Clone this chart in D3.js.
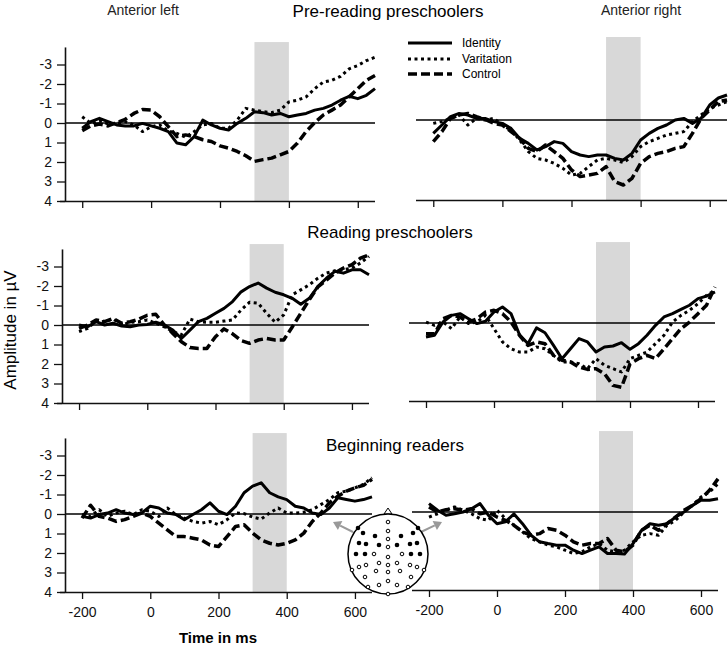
<!DOCTYPE html>
<html><head><meta charset="utf-8">
<script src="https://cdn.jsdelivr.net/npm/d3@7/dist/d3.min.js"></script>
<style>body{margin:0;background:#fff}svg{display:block;font-family:"Liberation Sans",Arial,sans-serif}</style>
</head><body><svg id="chart" width="728" height="645"></svg>
<script>
// ---------- DATA ----------
const timeMs = [-200,-175,-150,-125,-100,-75,-50,-25,0,25,50,75,100,125,150,175,200,225,250,275,300,325,350,375,400,425,450,475,500,525,550,575,600,625,650];
const seriesNames = ["Identity","Varitation","Control"];
const groupTitles = ["Pre-reading preschoolers","Reading preschoolers","Beginning readers"];
const regionTitles = ["Anterior left","Anterior right"];
const yTicks = [-3,-2,-1,0,1,2,3,4];
const xTicks = [-200,0,200,400,600];
const windowMs = [300,400];

// Pre-reading preschoolers
const preLeftIdentity  = [0.27,-0.07,-0.24,-0.07,0.1,0.15,0.15,0.02,0.15,0.27,0.44,1.03,1.12,0.7,-0.15,0.1,0.27,0.36,0.02,-0.24,-0.58,-0.53,-0.41,-0.49,-0.32,-0.41,-0.49,-0.66,-0.75,-0.92,-1.17,-1.37,-1.25,-1.42,-1.76];
const preLeftVariation = [-0.32,0.02,-0.12,0.05,0.02,-0.07,0.1,0.44,0.19,0.1,0.41,0.53,0.73,0.44,0.1,0.02,0.27,0.27,-0.15,-0.75,-0.66,-0.58,-0.53,-0.66,-1.08,-1.17,-1.34,-1.76,-2.1,-2.19,-2.39,-2.78,-2.95,-3.2,-3.37];
const preLeftControl   = [0.39,0.15,0.05,0.15,-0.02,-0.19,-0.49,-0.69,-0.66,-0.32,0.19,0.7,0.61,0.7,0.86,0.95,1.17,1.29,1.46,1.68,1.97,1.88,1.8,1.63,1.46,1.03,0.44,-0.02,-0.41,-0.66,-0.92,-1.34,-1.76,-2.19,-2.44];
const preRightIdentity  = [0.67,0.25,-0.17,-0.33,-0.25,-0.08,-0.08,0.08,0.17,0.42,0.92,1.17,1.5,1.33,1.08,1.17,1.58,1.75,1.83,1.75,1.75,1.92,2.0,1.67,1.0,0.67,0.42,0.25,0.0,-0.08,0.17,-0.08,-0.75,-1.1,-1.25];
const preRightVariation = [0.17,0.08,-0.08,-0.25,0.25,-0.08,0,-0.08,0.25,0.5,1.0,1.58,1.92,2.0,2.17,2.42,2.75,2.67,2.33,2.0,1.92,2.0,2.13,1.83,1.33,1.08,0.92,0.75,0.67,0.58,0.08,-0.25,-0.58,-0.75,-0.92];
const preRightControl   = [1.08,0.58,-0.08,-0.25,-0.33,-0.17,-0.03,0.17,0.25,0.58,0.92,1.42,1.58,1.25,1.58,1.92,2.5,2.83,2.75,2.67,2.33,3.08,3.25,2.92,2.17,1.83,1.67,1.58,1.42,1.33,0.67,-0.08,-0.5,-0.92,-1.0];

// Reading preschoolers
const readLeftIdentity  = [0,0.09,-0.17,0,-0.09,0.05,0.09,0,-0.03,-0.14,0,0.26,0.69,0.26,-0.17,-0.34,-0.6,-0.85,-1.2,-1.7,-1.97,-2.15,-1.89,-1.68,-1.55,-1.37,-1.06,-1.37,-1.97,-2.4,-2.75,-2.66,-2.83,-2.83,-2.58];
const readLeftVariation = [0.34,0.17,-0.2,-0.17,-0.31,0,-0.14,-0.17,-0.26,-0.09,0.09,0.34,0.5,-0.3,-0.17,-0.14,-0.14,-0.2,-0.26,-0.77,-1.17,-1.12,-0.6,-0.14,-0.52,-1.55,-1.8,-2.06,-2.4,-2.66,-2.78,-2.83,-2.92,-3.18,-3.52];
const readLeftControl   = [0.17,0,-0.26,-0.17,-0.34,-0.09,-0.17,-0.3,-0.5,-0.55,0,0.43,0.86,1.15,1.2,1.2,0.6,0.2,0.45,0.8,0.94,0.77,0.69,0.77,0.77,0.1,-0.6,-1.3,-1.95,-2.3,-2.66,-2.92,-3.09,-3.43,-3.6];
const readRightIdentity  = [0.72,0.63,-0.05,-0.39,-0.48,-0.22,0.03,-0.09,-0.56,-0.82,-0.48,0.6,1.06,0.25,0.5,1.15,1.83,1.32,0.8,0.97,1.49,1.23,1.18,1.01,1.35,1.06,0.63,0.12,-0.31,-0.48,-0.7,-0.91,-1.25,-1.38,-1.59];
const readRightVariation = [-0.05,0.12,-0.05,0.29,-0.31,0.03,-0.05,-0.39,0.29,0.97,1.32,1.49,1.49,1.23,1.32,1.66,2.0,2.0,2.09,2.34,1.83,2.17,2.34,2.51,1.83,1.66,1.49,1.06,0.63,-0.05,-0.39,-0.65,-0.99,-1.42,-1.68];
const readRightControl   = [0.55,0.55,-0.22,-0.39,-0.31,-0.05,-0.22,-0.56,-0.65,-0.48,-0.05,0.63,1.15,0.97,1.06,1.66,1.91,2.0,2.26,2.38,2.34,2.6,3.2,3.3,2.1,1.83,1.66,1.83,1.32,0.8,0.29,-0.05,-0.48,-0.91,-1.85];

// Beginning readers
const beginLeftIdentity  = [0.12,0.21,0.03,-0.05,-0.22,-0.05,0.03,-0.05,-0.4,-0.31,-0.05,0.03,0.29,0.03,-0.22,-0.57,-0.14,0.03,-0.4,-1.09,-1.43,-1.6,-1.09,-0.88,-0.74,-0.4,-0.31,-0.05,0.03,-0.31,-0.83,-0.74,-0.66,-0.74,-0.88];
const beginLeftVariation = [0.03,0.12,-0.22,0.12,-0.05,-0.14,0.03,-0.22,-0.14,0.12,-0.31,0.03,0.21,0.38,0.47,0.38,0.55,0.29,-0.05,-0.02,0.16,0.26,-0.05,-0.31,-0.05,-0.05,-0.09,-0.22,-0.48,-0.74,-1.09,-1.17,-1.34,-1.52,-1.86];
const beginLeftControl   = [0.21,-0.45,0.12,0.21,0.38,0.29,0.12,-0.05,0.12,0.47,0.81,1.16,1.16,1.24,1.33,1.59,1.67,1.16,0.64,0.55,0.98,1.33,1.5,1.59,1.5,1.33,0.98,0.38,-0.05,-0.57,-0.91,-1.17,-1.34,-1.47,-1.78];
const beginRightIdentity  = [-0.43,-0.09,0.17,0.09,0,-0.17,-0.43,0.17,0.6,0.5,0.1,0.6,1.19,1.53,1.62,1.7,1.7,1.96,2.13,1.96,1.79,2.13,2.13,2.16,1.62,0.94,0.6,0.68,0.6,0.26,0,-0.34,-0.6,-0.6,-0.68];
const beginRightVariation = [0.26,0.09,-0.09,-0.26,-0.09,0.09,0.34,0.43,-0.09,0.34,0.68,1.02,1.36,1.53,1.7,1.79,1.96,2.13,2.04,1.79,1.62,1.96,2.04,1.96,1.53,1.19,1.11,1.19,0.68,0.43,0,-0.34,-0.77,-1.02,-1.45];
const beginRightControl   = [-0.26,0,-0.12,-0.17,-0.09,-0.17,0.09,0,0.26,0.43,0.68,1.02,1.19,1.11,0.85,0.94,1.19,1.53,1.7,1.62,1.62,1.36,1.96,2.04,1.7,0.94,0.68,0.94,0.6,0.26,-0.09,-0.34,-0.68,-1.11,-1.7];

// ---------- LAYOUT ----------
const svg = d3.select("#chart");
const FONT = "'Liberation Sans',Arial,sans-serif";
const styles = [
  {w:3, dash:null},
  {w:3, dash:"3,3.5"},
  {w:3.5, dash:"9,4"}
];
const panels = [
  {row:0, side:0, x0:65,  x1:375, top:45,  bot:201, data:[preLeftIdentity,preLeftVariation,preLeftControl]},
  {row:0, side:1, x0:416, x1:727, top:40,  bot:200, data:[preRightIdentity,preRightVariation,preRightControl]},
  {row:1, side:0, x0:62,  x1:369, top:247, bot:403, data:[readLeftIdentity,readLeftVariation,readLeftControl]},
  {row:1, side:1, x0:409, x1:715, top:245, bot:401, data:[readRightIdentity,readRightVariation,readRightControl]},
  {row:2, side:0, x0:65,  x1:372, top:436, bot:592, data:[beginLeftIdentity,beginLeftVariation,beginLeftControl]},
  {row:2, side:1, x0:412, x1:718, top:434, bot:590, data:[beginRightIdentity,beginRightVariation,beginRightControl]}
];
const plainNum = d => String(d);

panels.forEach(p => {
  const g = svg.append("g");
  const x = d3.scaleLinear().domain([-250,650]).range([p.x0,p.x1]);
  const y = d3.scaleLinear().domain([-4,4]).range([p.top,p.bot]);
  // shaded window
  g.append("rect").attr("x",x(windowMs[0])).attr("width",x(windowMs[1])-x(windowMs[0]))
    .attr("y",y(-4.15)).attr("height",y(4)-y(-4.15)).attr("fill","#d8d8d8");
  // zero line
  g.append("line").attr("x1",x(-250)).attr("x2",x(650)).attr("y1",y(0)).attr("y2",y(0))
    .attr("stroke","#000").attr("stroke-width",1.3);
  // bottom axis
  const xa = d3.axisBottom(x).tickValues(xTicks).tickSize(7).tickSizeOuter(0)
    .tickFormat(p.row===2 ? plainNum : () => "");
  const gx = g.append("g").attr("transform",`translate(0,${y(4)})`).call(xa);
  gx.select(".domain").attr("stroke","#111").attr("stroke-width",1.6)
    .attr("d",`M${p.side===0?p.x0-5:p.x0},0.5H${p.x1}`);
  gx.selectAll(".tick line").attr("stroke","#111").attr("stroke-width",1.3);
  gx.selectAll(".tick text").attr("font-size",14).attr("fill","#111").attr("dy","1.05em")
    .attr("font-family",FONT);
  // left axis
  if (p.side===0) {
    const ya = d3.scaleLinear().domain([-3.9,4]).range([y(-3.9),y(4)]);
    const gy = g.append("g").attr("transform",`translate(${p.x0},0)`)
      .call(d3.axisLeft(ya).tickValues(yTicks).tickFormat(plainNum).tickSize(8).tickSizeOuter(0).tickPadding(5));
    gy.select(".domain").attr("stroke","#111").attr("stroke-width",1.6);
    gy.selectAll(".tick line").attr("stroke","#111").attr("stroke-width",1.3);
    gy.selectAll(".tick text").attr("font-size",14).attr("fill","#111")
      .attr("font-family",FONT);
  }
  // waveforms
  const line = d3.line().x((d,i)=>x(timeMs[i])).y(d=>y(d));
  p.data.forEach((arr,k) => {
    g.append("path").datum(arr).attr("d",line).attr("fill","none")
      .attr("stroke","#000").attr("stroke-width",styles[k].w)
      .attr("stroke-linejoin","round")
      .attr("stroke-dasharray",styles[k].dash);
  });
});

// titles
svg.append("text").attr("x",143).attr("y",15).attr("text-anchor","middle").attr("font-size",14).attr("fill","#222").text(regionTitles[0]);
svg.append("text").attr("x",641).attr("y",15).attr("text-anchor","middle").attr("font-size",14).attr("fill","#222").text(regionTitles[1]);
const gtPos = [[388,17],[390,238],[395,451]];
groupTitles.forEach((t,i)=>{
  svg.append("text").attr("x",gtPos[i][0]).attr("y",gtPos[i][1]).attr("text-anchor","middle")
    .attr("font-size",17).attr("fill","#000").text(t);
});
// axis titles
svg.append("text").attr("transform","translate(16,330) rotate(-90)").attr("text-anchor","middle")
  .attr("font-size",17).attr("fill","#000").text("Amplitude in µV");
svg.append("text").attr("x",218).attr("y",643).attr("text-anchor","middle")
  .attr("font-size",15).attr("font-weight","bold").attr("fill","#000").text("Time in ms");

// legend
const lg = svg.append("g");
[43,59,74].forEach((yy,k)=>{
  lg.append("line").attr("x1",408).attr("x2",452).attr("y1",yy).attr("y2",yy)
    .attr("stroke","#000").attr("stroke-width",styles[k].w).attr("stroke-dasharray",styles[k].dash);
  lg.append("text").attr("x",462).attr("y",yy+4).attr("font-size",12).attr("fill","#000").text(seriesNames[k]);
});

// head inset with arrows
const hc = [388,554], hr = 40;
const arrows = [[[353,532],[333,522]],[[421,532],[442,522]]];
arrows.forEach(a=>{
  const [p0,p1]=a;
  const ang=Math.atan2(p1[1]-p0[1],p1[0]-p0[0]);
  const bx=p1[0]-8*Math.cos(ang), by=p1[1]-8*Math.sin(ang);
  svg.append("line").attr("x1",p0[0]).attr("y1",p0[1]).attr("x2",bx).attr("y2",by)
    .attr("stroke","#999").attr("stroke-width",2);
  const px=-Math.sin(ang)*5, py=Math.cos(ang)*5;
  svg.append("path").attr("d",`M${p1[0]},${p1[1]}L${bx+px},${by+py}L${bx-px},${by-py}Z`).attr("fill","#999");
});
const head = svg.append("g").attr("transform",`translate(${hc[0]},${hc[1]})`);
head.append("path").attr("d","M-4,-40L0,-46L4,-40Z").attr("fill","#fff").attr("stroke","#000").attr("stroke-width",1);
head.append("circle").attr("r",hr).attr("fill","#fff").attr("stroke","#000").attr("stroke-width",1.5);
const filledE = [[-25,-21],[25,-21],[-13,-18],[13,-18],[-30,-26],[30,-26],[-29,-11],[29,-11],[-22,-10],[22,-10],[-9,-9],[9,-9],[-32,0],[32,0],[-23,0],[23,0]];
const openE = [[0,-32],[0,-23],[0,-15],[0,-7],[0,3],[0,11],[0,18],[0,27],[0,40],[-14,0],[14,0],[-29,13],[29,13],[-22,11],[22,11],[-9,9],[9,9],[-36,16],[36,16],[-23,23],[23,23],[-12,17],[12,17],[-20,33],[20,33],[-9,31],[9,31]];
filledE.forEach(e=>head.append("circle").attr("cx",e[0]).attr("cy",e[1]).attr("r",2.3).attr("fill","#000"));
openE.forEach(e=>head.append("circle").attr("cx",e[0]).attr("cy",e[1]).attr("r",1.8).attr("fill","#fff").attr("stroke","#000").attr("stroke-width",1));
</script></body></html>
